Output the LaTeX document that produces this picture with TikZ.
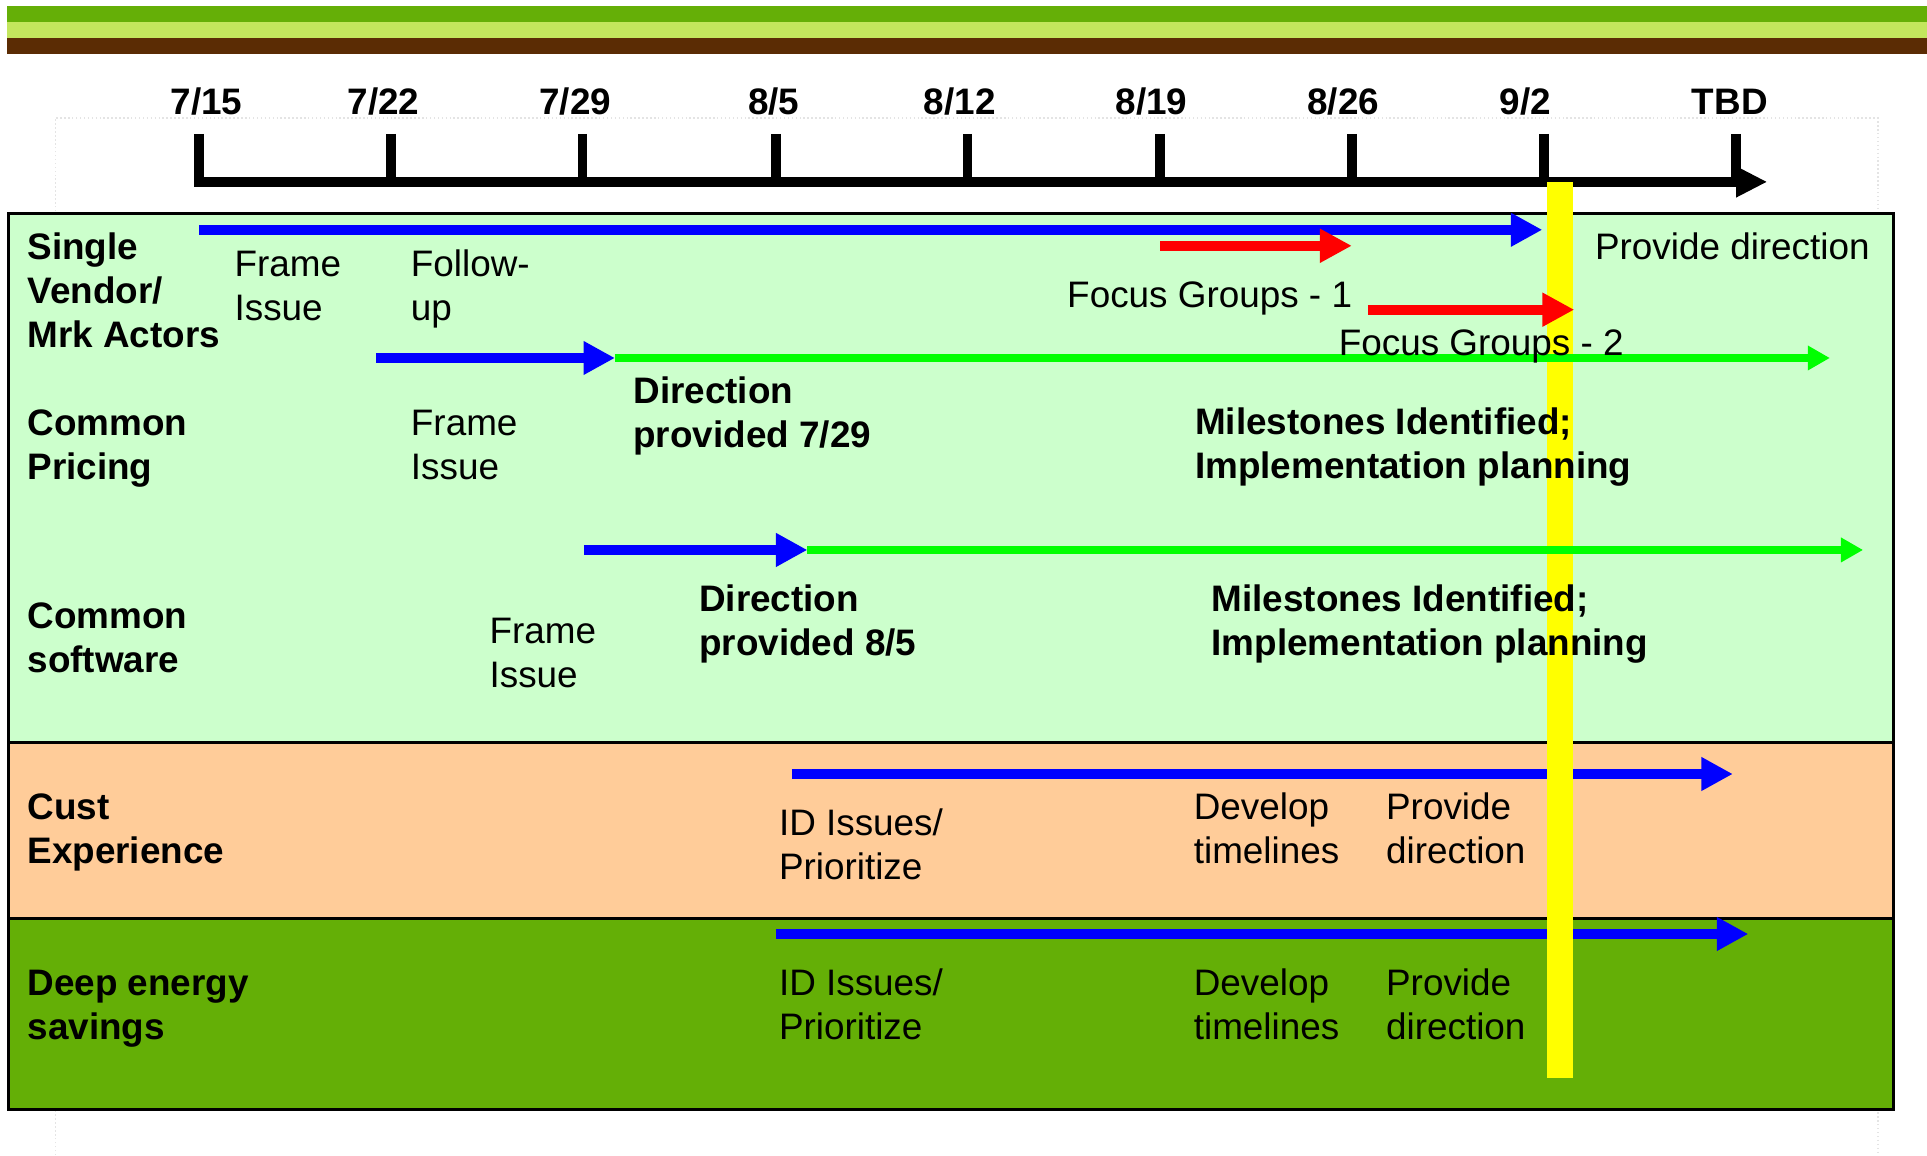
\documentclass[tikz,border=0pt]{standalone}
\usepackage{fontspec}
\setmainfont{Liberation Sans}
\usetikzlibrary{arrows.meta}
\definecolor{barGreen}{HTML}{65AF07}
\definecolor{barLight}{HTML}{C3E65D}
\definecolor{barBrown}{HTML}{5B2C04}
\definecolor{paleGreen}{HTML}{CCFFCC}
\definecolor{peachBand}{HTML}{FFCC99}
\definecolor{darkBand}{HTML}{64AF06}
\definecolor{frameGray}{HTML}{E4E4E4}
\definecolor{arrBlue}{HTML}{0000FF}
\definecolor{arrRed}{HTML}{FF0000}
\definecolor{arrGreen}{HTML}{00FF00}
\definecolor{markYellow}{HTML}{FFFF00}
\begin{document}
\begin{tikzpicture}[x=0.5pt,y=-0.5pt,
  txt/.style={anchor=base west, inner sep=0pt, align=left, font=\fontsize{15}{17.9}\selectfont},
  btxt/.style={txt, font=\fontsize{15}{17.9}\selectfont\bfseries},
  datelbl/.style={anchor=base, inner sep=0pt, font=\fontsize{15}{18}\selectfont\bfseries},
  tickline/.style={line width=4pt, line cap=butt},
  bluearr/.style={draw=arrBlue, line width=4.2pt, -{Triangle[length=12.8pt,width=12.9pt]}},
  redarr/.style={draw=arrRed, line width=4.2pt, -{Triangle[length=13pt,width=13pt]}},
  greenarr/.style={draw=arrGreen, line width=3.1pt, -{Triangle[length=9pt,width=9.5pt]}},
  axisarr/.style={draw=black, line width=4.35pt, -{Triangle[length=12.7pt,width=11.8pt]}},
  bandline/.style={draw=black, line width=1.2pt}
]
\useasboundingbox (0,0) rectangle (1568,940);

% top decorative bars
\fill[barGreen] (6,5) rectangle (1568,18);
\fill[barLight] (6,18) rectangle (1568,31);
\fill[barBrown] (6,31) rectangle (1568,44);

% faint slide frame
\draw[frameGray, line width=0.6pt, densely dotted] (45,940) -- (45,96) -- (1528,96) -- (1528,940);

% bands
\fill[paleGreen] (7,174) rectangle (1541,604);
\fill[peachBand] (7,604) rectangle (1541,747);
\fill[darkBand] (7,747) rectangle (1541,903);
\draw[bandline] (7,174) rectangle (1541,903);
\draw[bandline] (7,604) -- (1541,604);
\draw[bandline] (7,747) -- (1541,747);

% timeline
\foreach \nm/\tx/\lx/\lab in {t1/162/168/7\slash 15, t2/318/312/7\slash 22, t3/474/468/7\slash 29,
  t4/631.5/629.6/8\slash 5, t5/787.2/781/8\slash 12, t6/944/937/8\slash 19, t7/1100/1093/8\slash 26,
  t8/1256.3/1241/9\slash 2, t9/1412.3/1407.5/TBD}{
  \coordinate (\nm top) at (\tx,109);
  \coordinate (\nm bot) at (\tx,148);
  \draw[tickline] (\nm top) -- (\nm bot);
  \node[datelbl] (\nm lab) at (\lx,93.5) {\lab};
}
\coordinate (axs) at (158,148);
\coordinate (axe) at (1438,148);
\draw[axisarr] (axs) -- (axe);

% arrow end points
\coordinate (a1s) at (162,187);    \coordinate (a1e) at (1255,187);
\coordinate (a2s) at (944,200);    \coordinate (a2e) at (1100,200);
\coordinate (a3s) at (1113,252);   \coordinate (a3e) at (1281,252);
\coordinate (a4s) at (306,291.3);  \coordinate (a4e) at (500.4,291.3);
\coordinate (a5e) at (1489,291.3);
\coordinate (a6s) at (475,447.5);  \coordinate (a6e) at (657,447.5);
\coordinate (a7e) at (1516,447.5);
\coordinate (a8s) at (644.4,629.8); \coordinate (a8e) at (1410,629.8);
\coordinate (a9s) at (631.4,760);  \coordinate (a9e) at (1422.6,760);

% blue arrows
\draw[bluearr] (a1s) -- (a1e);
\draw[bluearr] (a4s) -- (a4e);
\draw[bluearr] (a6s) -- (a6e);
\draw[bluearr] (a8s) -- (a8e);
\draw[bluearr] (a9s) -- (a9e);

% today marker
\fill[markYellow] (1258.5,148) rectangle (1280.2,877);

% red and green arrows
\draw[redarr] (a2s) -- (a2e);
\draw[redarr] (a3s) -- (a3e);
\draw[greenarr] (a4e) -- (a5e);
\draw[greenarr] (a6e) -- (a7e);

% texts (anchor = baseline of the last line)
\node[btxt] (sv) at (22,282.6) {Single\\Vendor/\\Mrk Actors};
\node[txt] (svframe) at (190.5,260.4) {Frame\\Issue};
\node[txt] (svfollow) at (334,260.4) {Follow-\\up};
\node[txt] (svprov) at (1297.5,211) {Provide direction};
\node[txt] (fg1) at (868,250) {Focus Groups - 1};
\node[txt] (fg2) at (1089,288.9) {Focus Groups - 2};

\node[btxt] (cp) at (22,389.8) {Common\\Pricing};
\node[txt] (cpframe) at (334,389.8) {Frame\\Issue};
\node[btxt] (cpdir) at (515,364) {Direction\\provided 7/29};
\node[btxt] (cpmile) at (972,389.2) {Milestones Identified;\\Implementation planning};

\node[btxt] (cs) at (22,547) {Common\\software};
\node[txt] (csframe) at (398,559.8) {Frame\\Issue};
\node[btxt] (csdir) at (568.5,533.5) {Direction\\provided 8/5};
\node[btxt] (csmile) at (985.5,533.5) {Milestones Identified;\\Implementation planning};

\node[btxt] (ce) at (22,703) {Cust\\Experience};
\node[txt] (ceid) at (633.5,715.8) {ID Issues/\\Prioritize};
\node[txt] (cedev) at (971,703) {Develop\\timelines};
\node[txt] (ceprov) at (1127.5,703) {Provide\\direction};

\node[btxt] (de) at (22,846.2) {Deep energy\\savings};
\node[txt] (deid) at (633.5,846) {ID Issues/\\Prioritize};
\node[txt] (dedev) at (971,846) {Develop\\timelines};
\node[txt] (deprov) at (1127.5,846) {Provide\\direction};
\end{tikzpicture}
\end{document}
